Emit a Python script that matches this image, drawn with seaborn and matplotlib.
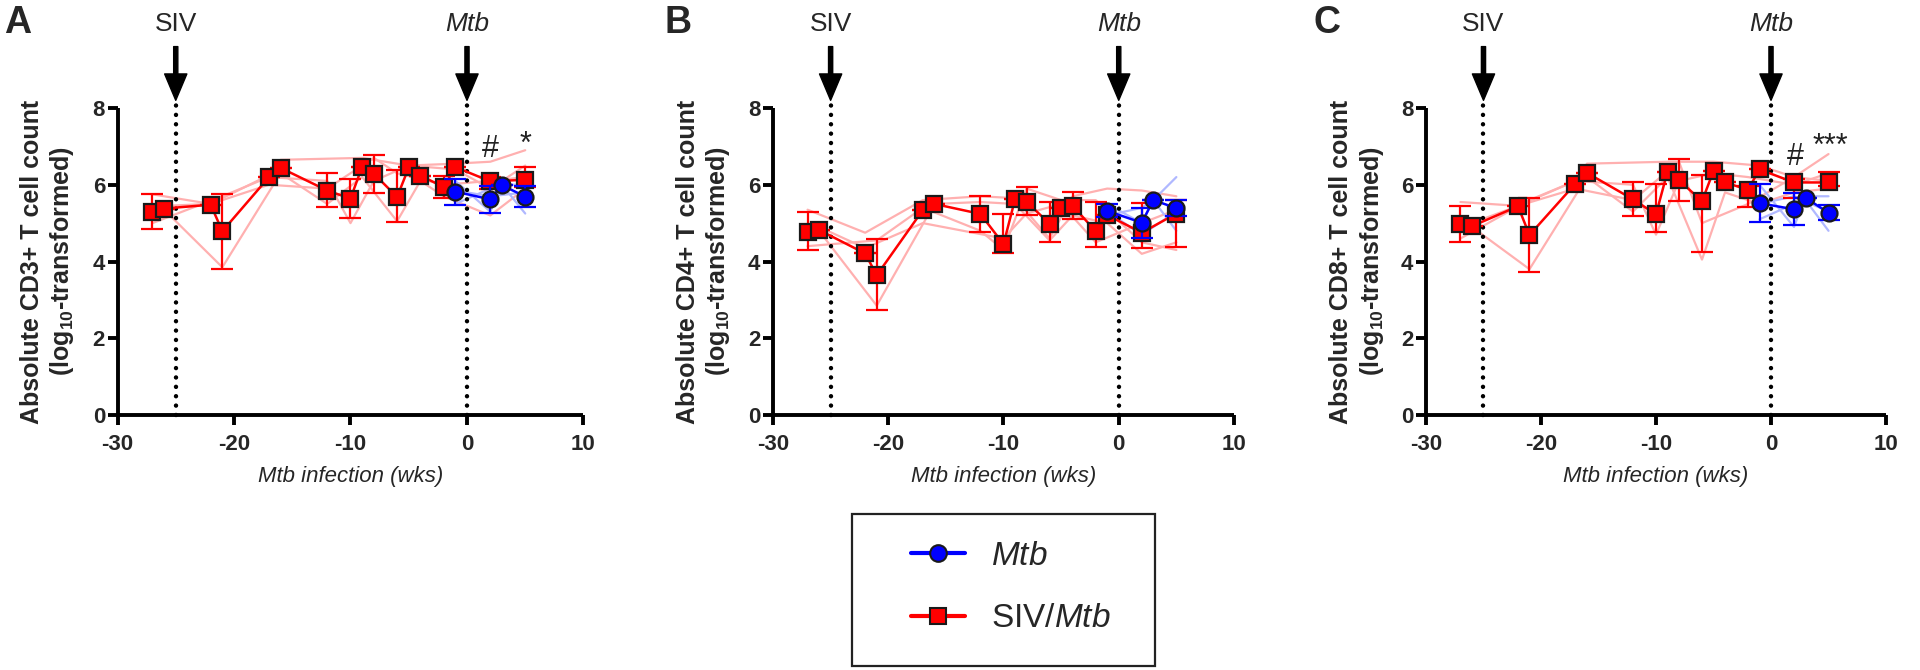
import numpy as np
import pandas as pd
import matplotlib
matplotlib.use("Agg")
import matplotlib.pyplot as plt
from matplotlib.lines import Line2D
from matplotlib.patches import Rectangle
import seaborn as sns

# ---------------- data ----------------
panels = ["A", "B", "C"]
ylabels = ["Absolute CD3+ T cell count", "Absolute CD4+ T cell count", "Absolute CD8+ T cell count"]

# Panel A (CD3+)
A_red_x = [-27, -26, -22, -21, -17, -16, -12, -10, -9, -8, -6, -5, -4, -2, -1, 2, 5]
A_red_y = [5.30, 5.38, 5.48, 4.79, 6.20, 6.44, 5.85, 5.64, 6.47, 6.29, 5.68, 6.45, 6.24, 5.94, 6.46, 6.09, 6.13]
A_red_elo = [0.45, 0, 0, 0.98, 0, 0, 0.42, 0.50, 0, 0.50, 0.66, 0, 0, 0.28, 0, 0.20, 0.20]
A_red_ehi = [0.45, 0, 0, 0.97, 0, 0, 0.46, 0.51, 0, 0.49, 0.71, 0, 0, 0.28, 0, 0.10, 0.33]
A_blue_x = [-1, 2, 3, 5]
A_blue_y = [5.82, 5.62, 5.99, 5.69]
A_blue_e = [0.34, 0.35, 0.0, 0.27]
A_red_ind_x = [[-27, -22, -17, -16, -9, -5, -1, 2, 5],
               [-27, -21, -17, -12, -10, -8, -5, -1, 2, 5],
               [-26, -21, -16, -12, -9, -6, -4, -2, 2, 5],
               [-26, -22, -17, -12, -8, -6, -2, 2, 5]]
A_red_ind_y = [[5.75, 5.50, 6.25, 6.65, 6.70, 6.50, 6.55, 6.60, 6.90],
               [5.00, 5.70, 6.20, 6.10, 5.00, 6.10, 6.50, 6.40, 5.90, 6.50],
               [5.35, 3.85, 6.30, 5.50, 6.20, 5.05, 6.10, 5.70, 5.20, 5.90],
               [5.45, 5.50, 6.00, 5.90, 6.70, 6.30, 6.00, 6.10, 6.20]]
A_blue_ind_x = [[-1, 2, 3, 5], [-1, 2, 3, 5], [-1, 2, 5]]
A_blue_ind_y = [[6.10, 5.30, 6.00, 5.25], [5.50, 5.90, 6.00, 6.00], [5.85, 5.70, 5.80]]
A_marks = [(2, 6.93, "#"), (5, 7.05, "*")]

# Panel B (CD4+)
B_red_x = [-27, -26, -22, -21, -17, -16, -12, -10, -9, -8, -6, -5, -4, -2, -1, 2, 5]
B_red_y = [4.78, 4.82, 4.21, 3.64, 5.34, 5.50, 5.24, 4.45, 5.62, 5.56, 4.98, 5.39, 5.45, 4.79, 5.21, 4.75, 5.25]
B_red_elo = [0.48, 0, 0, 0.91, 0, 0, 0.46, 0.24, 0, 0.35, 0.48, 0, 0.35, 0.41, 0, 0.39, 0.88]
B_red_ehi = [0.52, 0, 0, 0.94, 0, 0, 0.47, 0.79, 0, 0.37, 0.58, 0, 0.35, 0.77, 0, 0.77, 0.35]
B_blue_x = [-1, 2, 3, 5]
B_blue_y = [5.32, 5.01, 5.60, 5.39]
B_blue_e = [0.17, 0.39, 0.0, 0.20]
B_red_ind_x = [[-27, -22, -17, -12, -9, -6, -4, -1, 2, 5],
               [-27, -21, -17, -12, -10, -8, -5, -2, 2, 5],
               [-26, -21, -16, -12, -9, -6, -4, -1, 2, 5],
               [-26, -22, -17, -10, -8, -5, -2, 2, 5]]
B_red_ind_y = [[5.35, 4.75, 5.60, 5.70, 5.65, 4.60, 5.70, 5.90, 5.85, 5.70],
               [4.40, 4.55, 5.40, 4.80, 4.30, 5.90, 5.60, 5.60, 4.50, 4.30],
               [4.80, 2.85, 5.50, 5.55, 5.50, 4.55, 5.20, 5.00, 4.20, 4.50],
               [4.90, 4.35, 5.00, 4.60, 5.25, 5.50, 4.50, 5.00, 5.35]]
B_blue_ind_x = [[-1, 2, 3, 5], [-1, 2, 3, 5], [-1, 2, 5]]
B_blue_ind_y = [[5.50, 5.00, 5.60, 6.20], [5.20, 5.40, 5.60, 4.80], [5.30, 4.70, 5.30]]
B_marks = []

# Panel C (CD8+)
C_red_x = [-27, -26, -22, -21, -17, -16, -12, -10, -9, -8, -6, -5, -4, -2, -1, 2, 5]
C_red_y = [4.97, 4.92, 5.44, 4.69, 6.03, 6.31, 5.62, 5.23, 6.34, 6.12, 5.57, 6.36, 6.06, 5.87, 6.40, 6.06, 6.06]
C_red_elo = [0.45, 0, 0, 0.96, 0, 0, 0.44, 0.47, 0, 0.54, 1.31, 0, 0, 0.45, 0, 0.40, 0.10]
C_red_ehi = [0.47, 0, 0, 0.97, 0, 0, 0.44, 0.78, 0, 0.55, 0.68, 0, 0, 0.10, 0, 0.10, 0.26]
C_blue_x = [-1, 2, 3, 5]
C_blue_y = [5.52, 5.36, 5.66, 5.27]
C_blue_e = [0.49, 0.42, 0.0, 0.19]
C_red_ind_x = [[-27, -22, -17, -16, -9, -5, -1, 2, 5],
               [-27, -21, -17, -12, -10, -8, -5, -2, 2, 5],
               [-26, -21, -16, -12, -9, -6, -4, -1, 2, 5],
               [-26, -22, -17, -12, -8, -6, -2, 2, 5]]
C_red_ind_y = [[5.55, 5.45, 6.10, 6.55, 6.60, 6.60, 6.50, 6.20, 6.80],
               [4.60, 5.60, 6.10, 6.00, 4.70, 6.10, 6.30, 6.20, 6.00, 6.30],
               [4.90, 3.80, 6.20, 5.30, 6.20, 4.05, 5.80, 5.50, 5.80, 5.90],
               [5.00, 5.45, 5.90, 5.60, 6.60, 5.00, 5.50, 6.20, 6.10]]
C_blue_ind_x = [[-1, 2, 3, 5], [-1, 2, 3, 5], [-1, 2, 5]]
C_blue_ind_y = [[6.00, 4.90, 5.70, 5.70], [5.10, 5.50, 5.60, 4.80], [5.50, 5.70, 5.30]]
C_marks = [(2.1, 6.73, "#"), (5.2, 6.98, "***")]

siv_week = -25
mtb_week = 0
xticks = [-30, -20, -10, 0, 10]
yticks = [0, 2, 4, 6, 8]

# ---------------- style ----------------
sns.set_theme(style="ticks")
plt.rcParams["font.family"] = ["Liberation Sans", "DejaVu Sans"]
plt.rcParams["mathtext.fontset"] = "custom"
plt.rcParams["mathtext.rm"] = "Liberation Sans"
plt.rcParams["mathtext.it"] = "Liberation Sans:italic"
plt.rcParams["mathtext.bf"] = "Liberation Sans:bold"

RED = "#ff0000"
BLUE = "#0000ff"
LRED = "#ffb0b0"
LBLUE = "#b0b8ff"

fig = plt.figure(figsize=(19.2, 6.7), dpi=100)
positions = [[0.0612, 0.3806, 0.2427, 0.4582],
             [0.4026, 0.3806, 0.2401, 0.4582],
             [0.7427, 0.3806, 0.2396, 0.4582]]
letter_x = [0.002, 0.346, 0.684]

data = {
    "A": (A_red_x, A_red_y, A_red_elo, A_red_ehi, A_blue_x, A_blue_y, A_blue_e,
          A_red_ind_x, A_red_ind_y, A_blue_ind_x, A_blue_ind_y, A_marks),
    "B": (B_red_x, B_red_y, B_red_elo, B_red_ehi, B_blue_x, B_blue_y, B_blue_e,
          B_red_ind_x, B_red_ind_y, B_blue_ind_x, B_blue_ind_y, B_marks),
    "C": (C_red_x, C_red_y, C_red_elo, C_red_ehi, C_blue_x, C_blue_y, C_blue_e,
          C_red_ind_x, C_red_ind_y, C_blue_ind_x, C_blue_ind_y, C_marks),
}


def ind_frame(xs, ys):
    rows = []
    for i, (xx, yy) in enumerate(zip(xs, ys)):
        for a, b in zip(xx, yy):
            rows.append({"animal": i, "week": a, "val": b})
    return pd.DataFrame(rows)


for k, name in enumerate(panels):
    (rx, ry, relo, rehi, bx, by, be, rix, riy, bix, biy, marks) = data[name]
    ax = fig.add_axes(positions[k])

    # individual animals
    sns.lineplot(data=ind_frame(rix, riy), x="week", y="val", units="animal",
                 estimator=None, color=LRED, lw=1.6, ax=ax, legend=False, zorder=1)
    sns.lineplot(data=ind_frame(bix, biy), x="week", y="val", units="animal",
                 estimator=None, color=LBLUE, lw=1.6, ax=ax, legend=False, zorder=1)

    # dotted event lines
    for wk in (siv_week, mtb_week):
        ax.plot([wk, wk], [0, 8.13], color="black", lw=3.2, ls=(0, (0.01, 2.1)),
                dash_capstyle="round", zorder=2, clip_on=False)

    # group means
    ax.errorbar(rx, ry, yerr=[relo, rehi], fmt="none", ecolor=RED, elinewidth=1.6,
                capsize=8, capthick=1.6, zorder=3)
    sns.lineplot(x=rx, y=ry, color=RED, lw=1.8, marker="s", markersize=11.5,
                 markeredgecolor="#1a1a1a", markeredgewidth=1.6, ax=ax, zorder=4,
                 sort=False)
    ax.errorbar(bx, by, yerr=be, fmt="none", ecolor=BLUE, elinewidth=1.6,
                capsize=8, capthick=1.6, zorder=5)
    sns.lineplot(x=bx, y=by, color=BLUE, lw=1.8, marker="o", markersize=11.5,
                 markeredgecolor="#1a1a1a", markeredgewidth=1.6, ax=ax, zorder=6,
                 sort=False)

    for (mx, my, mt) in marks:
        ax.text(mx, my, mt, ha="center", va="center", fontsize=22, color="#222222",
                zorder=7)

    # arrows with labels
    for wk, lab, sty in ((siv_week, "SIV", "normal"), (mtb_week, "Mtb", "italic")):
        ax.annotate("", xy=(wk, 8.2), xytext=(wk, 9.6),
                    arrowprops=dict(width=3.0, headwidth=16, headlength=19,
                                    facecolor="black", edgecolor="black", shrink=0),
                    annotation_clip=False)
        ax.text(wk, 10.2, lab, ha="center", va="center", fontsize=19,
                fontstyle=sty, clip_on=False)

    ax.set_xlim(-30, 10)
    ax.set_ylim(0, 8)
    ax.set_xticks(xticks)
    ax.set_yticks(yticks)
    ax.set_xticklabels([str(t) for t in xticks], fontsize=16, fontweight="bold")
    ax.set_yticklabels([str(t) for t in yticks], fontsize=16, fontweight="bold")
    ax.tick_params(axis="both", length=7.5, width=2.8, color="black")
    ax.tick_params(axis="x", pad=6)
    ax.tick_params(axis="y", pad=1.5)
    for s in ("top", "right"):
        ax.spines[s].set_visible(False)
    for s in ("left", "bottom"):
        ax.spines[s].set_linewidth(2.8)
        ax.spines[s].set_color("black")
        ax.spines[s].set_capstyle("butt")

    ax.set_xlabel("Mtb infection (wks)", fontsize=16, fontstyle="italic")
    ax.xaxis.set_label_coords(0.5, -0.165)
    ax.set_ylabel(ylabels[k] + "\n" + r"(log$_\mathbf{10}$-transformed)",
                  fontsize=18, fontweight="bold", linespacing=1.2)
    ax.yaxis.set_label_coords(-0.088, 0.5)

    fig.text(letter_x[k], 0.992, name, fontsize=27, fontweight="bold",
             ha="left", va="top")

# legend
fig.patches.append(Rectangle((0.4437, 0.006), 0.1579, 0.2267, transform=fig.transFigure,
                             fill=False, edgecolor="#222222", lw=1.6))
handles = [Line2D([], [], color=BLUE, lw=3, marker="o", markersize=12,
                  markeredgecolor="#1a1a1a", markeredgewidth=1.5),
           Line2D([], [], color=RED, lw=3, marker="s", markersize=12,
                  markeredgecolor="#1a1a1a", markeredgewidth=1.5)]
fig.legend(handles, [r"$\mathit{Mtb}$", r"SIV/$\mathit{Mtb}$"], loc="center left",
           bbox_to_anchor=(0.466, 0.123), frameon=False, fontsize=24,
           handlelength=1.6, handletextpad=0.8, labelspacing=0.95, borderpad=0)

fig.savefig("out.png", dpi=100)
